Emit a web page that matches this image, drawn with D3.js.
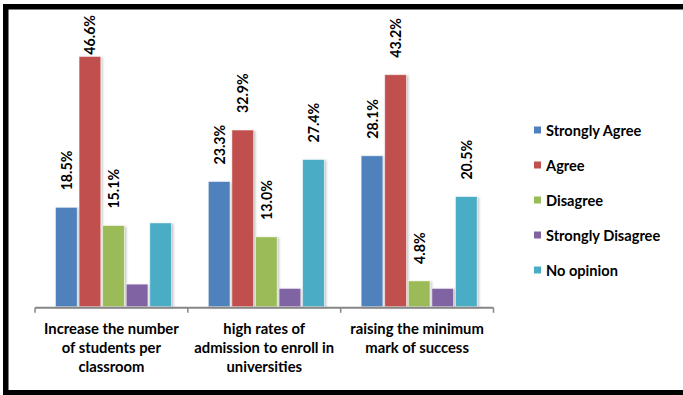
<!DOCTYPE html>
<html>
<head>
<meta charset="utf-8">
<script src="https://cdn.jsdelivr.net/npm/d3@7/dist/d3.min.js"></script>
<style>
  html, body { margin: 0; padding: 0; background: #fff; }
  svg { display: block; font-family: Lato, "Open Sans", sans-serif; }
</style>
</head>
<body>
<svg id="chart" width="683" height="395"></svg>
<script>
// Survey responses (%) per cause
const categories = [
  ["Increase the number", "of students per", "classroom"],
  ["high rates of", "admission to enroll in", "universities"],
  ["raising the minimum", "mark of success"]
];
const seriesNames = ["Strongly Agree", "Agree", "Disagree", "Strongly Disagree", "No opinion"];
const seriesColors = ["#4f81bd", "#c0504d", "#9bbb59", "#8064a2", "#4bacc6"];
const stronglyAgree    = [18.5, 23.3, 28.1];
const agree            = [46.6, 32.9, 43.2];
const disagree         = [15.1, 13.0, 4.8];
const stronglyDisagree = [4.2, 3.4, 3.4];
const noOpinion        = [15.6, 27.4, 20.5];
// which values carry a printed label
const labelled = [
  [true, true, true],
  [true, true, true],
  [true, true, true],
  [false, false, false],
  [false, true, true]
];

const series = [stronglyAgree, agree, disagree, stronglyDisagree, noOpinion];

const svg = d3.select("#chart");

// drop shadow for the bars
const defs = svg.append("defs");
const f = defs.append("filter").attr("id", "shadow")
  .attr("x", "-30%").attr("y", "-10%").attr("width", "160%").attr("height", "130%");
f.append("feDropShadow").attr("dx", 1.5).attr("dy", 1).attr("stdDeviation", 1.2)
  .attr("flood-color", "#000").attr("flood-opacity", 0.25);

// outer frame
svg.append("rect")
  .attr("x", 5.75).attr("y", 6.75)
  .attr("width", 700).attr("height", 386)
  .attr("fill", "none").attr("stroke", "#000").attr("stroke-width", 5.5);

const x0 = d3.scaleBand().domain(d3.range(categories.length)).range([35, 493.5]);
const x1 = d3.scaleBand().domain(d3.range(seriesNames.length))
  .range([20.5, 136.5]).paddingInner(0.08).paddingOuter(0);
const y = d3.scaleLinear().domain([0, 50]).range([306.7, 38.2]);

// bars
const groups = svg.append("g").selectAll("g")
  .data(categories.map((c, i) => i))
  .join("g")
  .attr("transform", i => `translate(${x0(i)},0)`);

groups.selectAll("rect")
  .data(i => series.map((s, k) => ({ k, v: s[i], i })))
  .join("rect")
  .attr("x", d => x1(d.k))
  .attr("y", d => y(d.v))
  .attr("width", x1.bandwidth())
  .attr("height", d => y(0) - y(d.v))
  .attr("fill", d => seriesColors[d.k])
  .attr("stroke", "rgba(255,255,255,0.6)")
  .attr("stroke-width", 0.8)
  .attr("filter", "url(#shadow)");

// value labels, rotated, above bars
groups.selectAll("text.val")
  .data(i => series.map((s, k) => ({ k, v: s[i], i })).filter(d => labelled[d.k][d.i]))
  .join("text")
  .attr("class", "val")
  .attr("font-size", 14.2)
  .attr("font-weight", "bold")
  .attr("fill", "#000")
  .attr("dominant-baseline", "central")
  .text(d => d.v.toFixed(1) + "%")
  .each(function (d) {
    const len = this.getComputedTextLength();
    const cx = x1(d.k) + x1.bandwidth() / 2;
    const bottom = Math.max(y(d.v) - 17, 15 + len);
    d3.select(this).attr("transform", `translate(${cx},${bottom}) rotate(-90)`);
  });

// category axis
const axisY = 307.8;
svg.append("line")
  .attr("x1", x0.range()[0]).attr("x2", x0.range()[1])
  .attr("y1", axisY).attr("y2", axisY)
  .attr("stroke", "#868686").attr("stroke-width", 2);
const tickPos = d3.range(categories.length).map(i => x0(i)).concat([x0.range()[1]]);
svg.append("g").selectAll("line").data(tickPos).join("line")
  .attr("x1", d => d).attr("x2", d => d)
  .attr("y1", axisY).attr("y2", axisY + 5)
  .attr("stroke", "#868686").attr("stroke-width", 1.5);

// category labels
svg.append("g").selectAll("text")
  .data(categories.map((lines, i) => ({ lines, i })))
  .join("text")
  .attr("text-anchor", "middle")
  .attr("font-size", 14.8)
  .attr("font-weight", "bold")
  .attr("fill", "#000")
  .each(function (d) {
    const cx = x0(d.i) + x0.bandwidth() / 2;
    d3.select(this).selectAll("tspan").data(d.lines).join("tspan")
      .attr("x", cx)
      .attr("y", (l, j) => 333.5 + j * 19.3)
      .text(l => l);
  });

// legend
const legend = svg.append("g").selectAll("g")
  .data(seriesNames.map((n, k) => ({ n, k })))
  .join("g")
  .attr("transform", d => `translate(534,${130 + d.k * 35})`);
legend.append("rect")
  .attr("x", 0).attr("y", -3.5).attr("width", 7).attr("height", 7)
  .attr("fill", d => seriesColors[d.k]);
legend.append("text")
  .attr("x", 12).attr("y", 0)
  .attr("dominant-baseline", "central")
  .attr("font-size", 14.6).attr("font-weight", "bold").attr("fill", "#000")
  .text(d => d.n);
</script>
</body>
</html>
